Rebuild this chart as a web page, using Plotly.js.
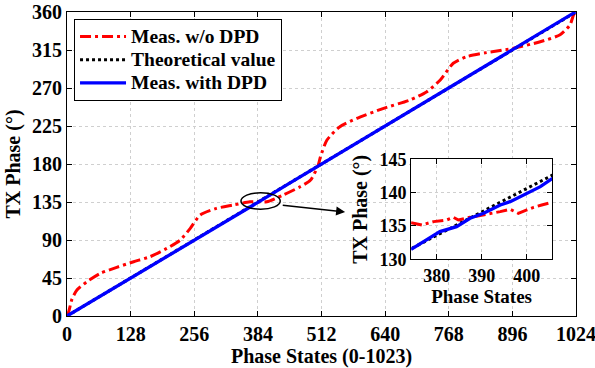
<!DOCTYPE html>
<html><head><meta charset="utf-8">
<script src="https://cdn.plot.ly/plotly-3.0.1.min.js"></script>
<style>html,body{margin:0;padding:0;background:#fff}#c{width:595px;height:368px}</style>
</head><body><div id="c"></div>
<script>
// Main chart data
const noDpdX = [0, 3.4, 10, 20, 40, 67, 100, 134, 167, 201, 228, 248, 268, 301, 335, 368, 402, 435, 469, 490, 505, 510, 523, 549, 583, 637, 690, 724, 751, 777, 804, 844, 898, 952, 992, 1012, 1019, 1023];
const noDpdY = [0, 5, 20, 30.8, 40.6, 50.5, 57.6, 64.3, 70.2, 80.1, 90, 103.8, 119.6, 127.5, 131.4, 135.3, 135.3, 143.3, 153, 161, 178, 188.7, 208.4, 224.2, 234, 245.9, 255.8, 265.6, 279.5, 299.3, 307.1, 311.9, 317, 324.8, 333, 344.8, 356.5, 360];
const theoryX = [0, 1024];
const theoryY = [0, 360];
const dpdX = [0, 64, 128, 192, 256, 320, 384, 448, 512, 576, 640, 704, 768, 832, 896, 960, 1023];
const dpdY = [0, 22.3, 44.8, 67.2, 89.7, 112.2, 134.6, 157.3, 179.8, 202.3, 224.8, 247.3, 269.8, 292.4, 314.8, 337.4, 360];
// Inset data
const inNoDpdX = [374.3, 376.7, 379.3, 382.2, 383.7, 384.8, 387.4, 390.4, 394.1, 396.3, 398.1, 400, 401.5, 403.3, 405.7];
const inNoDpdY = [135.5, 135.15, 135.65, 135.9, 136.3, 135.9, 136.3, 136.65, 137.15, 137.5, 136.9, 137.4, 137.8, 138.15, 138.55];
const inDpdX = [374.3, 377.8, 380.7, 384.4, 387.4, 390.4, 394.1, 396.3, 400, 403, 405.7];
const inDpdY = [131.5, 132.9, 134.15, 134.9, 136.15, 136.9, 138.15, 138.65, 139.9, 140.9, 142.15];
// Ticks
const xTicks = [0, 128, 256, 384, 512, 640, 768, 896, 1024];
const yTicks = [0, 45, 90, 135, 180, 225, 270, 315, 360];
const inXTicks = [380, 390, 400];
const inYTicks = [130, 135, 140, 145];
const names = ['Meas. w/o DPD', 'Theoretical value', 'Meas. with DPD'];

const FAM = 'Liberation Serif, Times New Roman, serif';
const F = {family: FAM, size: 20, color: '#000', weight: 'bold'};
const FI = {family: FAM, size: 18, color: '#000', weight: 'bold'};
const FIT = {family: FAM, size: 20, color: '#000', weight: 'bold'};
const redDash = '11px,4px,3px,4px';
const big = s => '<span style="font-size:19.5px">' + s + '</span>';
const traces = [
  {x: noDpdX, y: noDpdY, name: big(names[0]), mode: 'lines', line: {color: '#ff0000', width: 3, dash: redDash, shape: 'spline', smoothing: 0.6}},
  {x: theoryX, y: theoryY, name: big(names[1]), mode: 'lines', line: {color: '#000', width: 3, dash: 'dot'}},
  {x: dpdX, y: dpdY, name: big(names[2]), mode: 'lines', line: {color: '#0000ff', width: 3.3}},
  {x: inNoDpdX, y: inNoDpdY, xaxis: 'x2', yaxis: 'y2', showlegend: false, mode: 'lines', line: {color: '#ff0000', width: 3, dash: redDash}},
  {x: theoryX, y: theoryY, xaxis: 'x2', yaxis: 'y2', showlegend: false, mode: 'lines', line: {color: '#000', width: 3, dash: 'dot'}},
  {x: inDpdX, y: inDpdY, xaxis: 'x2', yaxis: 'y2', showlegend: false, mode: 'lines', line: {color: '#0000ff', width: 3.3}}
];
const axBase = {showline: true, linecolor: '#000', linewidth: 1, mirror: 'ticks', ticks: 'inside', ticklen: 5, tickcolor: '#000',
  showgrid: true, gridcolor: '#cfcfcf', griddash: 'dot', gridwidth: 1, zeroline: false, ticklabeloverflow: 'allow'};
const layout = {
  width: 595, height: 368,
  margin: {l: 67, r: 19, t: 12, b: 52},
  paper_bgcolor: '#fff', plot_bgcolor: '#fff',
  showlegend: true,
  legend: {x: 0.0138, y: 0.977, xanchor: 'left', yanchor: 'top', bgcolor: '#fff', bordercolor: '#000', borderwidth: 1,
    font: {family: FAM, size: 15.5, color: '#000', weight: 'bold'}, tracegroupgap: 0, itemwidth: 46},
  xaxis: Object.assign({}, axBase, {range: [0, 1024], tickvals: xTicks, domain: [0, 1], tickfont: F,
    title: {text: 'Phase States (0-1023)', font: F, standoff: 0}}),
  yaxis: Object.assign({}, axBase, {range: [0, 360], tickvals: yTicks, domain: [0, 1], tickfont: F,
    title: {text: 'TX Phase (°)', font: F, standoff: 6}}),
  xaxis2: Object.assign({}, axBase, {anchor: 'y2', range: [374.3, 405.6], tickvals: inXTicks, domain: [0.676, 0.953], tickfont: FI,
    title: {text: 'Phase States', font: {family: FAM, size: 19, color: '#000', weight: 'bold'}, standoff: 0}}),
  yaxis2: Object.assign({}, axBase, {anchor: 'x2', range: [130, 145], tickvals: inYTicks, domain: [0.1865, 0.5155], tickfont: FI,
    title: {text: 'TX Phase (°)', font: FIT, standoff: 6}}),
  shapes: [
    {type: 'circle', xref: 'x', yref: 'y', x0: 350, x1: 429, y0: 126.4, y1: 146, line: {color: '#000', width: 1.5}}
  ],
  annotations: [
    {x: 559.5, y: 123.2, ax: 431, ay: 131.4, xref: 'x', yref: 'y', axref: 'x', ayref: 'y', showarrow: true,
     arrowhead: 2, arrowsize: 1.2, arrowwidth: 1.5, arrowcolor: '#000', text: ''}
  ]
};
Plotly.newPlot('c', traces, layout, {displayModeBar: false, staticPlot: true});
</script></body></html>
